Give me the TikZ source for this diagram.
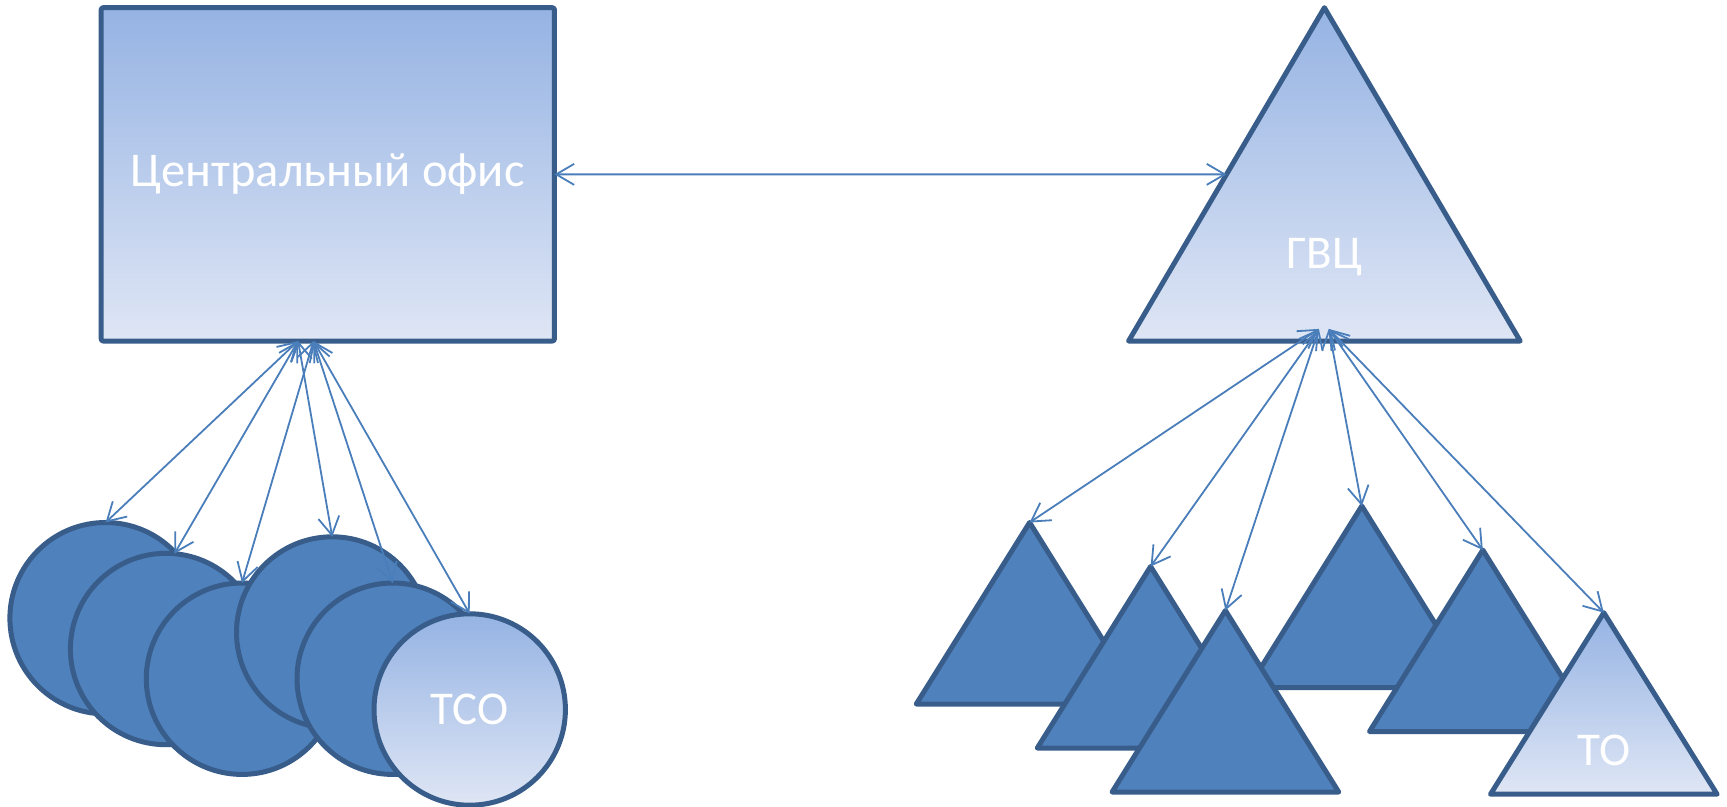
\documentclass[tikz,border=0pt]{standalone}
\usepackage{fontspec}
\setmainfont{Carlito}
\usetikzlibrary{arrows.meta,shapes.geometric}
\definecolor{fillblue}{RGB}{79,129,189}
\definecolor{edgeblue}{RGB}{56,93,138}
\definecolor{connblue}{RGB}{74,126,187}
\definecolor{gradtop}{RGB}{149,179,227}
\definecolor{gradbot}{RGB}{223,230,245}
\tikzset{
  shapeline/.style={draw=edgeblue, line width=5pt, line join=round, outer sep=0pt},
  solidfill/.style={shapeline, fill=fillblue},
  gradfill/.style={shapeline, top color=gradtop, bottom color=gradbot},
  disk/.style={circle, minimum size=191.4pt, inner sep=0pt},
  tri/.style={isosceles triangle, shape border rotate=90, isosceles triangle stretches, inner sep=0pt, anchor=apex},
  smalltri/.style={tri, minimum width=226.6pt, minimum height=181.5pt},
  lbl/.style={text=white, font=\fontsize{47}{50}\selectfont},
  conn/.style={draw=connblue, line width=1.8pt, arrows={Straight Barb[length=18pt,width=21pt]-Straight Barb[length=18pt,width=21pt]}},
}
\begin{document}
\begin{tikzpicture}[x=1.1pt,y=-1.1pt]
\useasboundingbox (0,0) rectangle (1570,732.73);
\fill[white] (0,0) rectangle (1570,732.73);
% central office
\node[gradfill, rectangle, rounded corners=2pt, minimum width=453.2pt, minimum height=333.3pt, inner sep=0pt, lbl, font=\fontsize{48.5}{52}\selectfont] (office) at (298,158.5) {Центральный офис};
% GVC
\node[gradfill, tri, minimum width=391.6pt, minimum height=333.3pt] (gvc) at (1204,7) {};
\node[lbl] (gvclbl) at (1204,234) {ГВЦ};
% circles
\node[solidfill, disk] (c1) at (96,562) {};
\node[solidfill, disk] (c2) at (151,590) {};
\node[solidfill, disk] (c3) at (220,617) {};
\node[solidfill, disk] (c4) at (302,575) {};
\node[solidfill, disk] (c5) at (357,617) {};
\node[gradfill, disk, lbl] (c6) at (427,645) {ТСО};
% small triangles
\node[solidfill, smalltri] (t1) at (936,475) {};
\node[solidfill, smalltri] (t2) at (1046,515) {};
\node[solidfill, smalltri] (t3) at (1238,460) {};
\node[solidfill, smalltri] (t4) at (1114,555) {};
\node[solidfill, smalltri] (t5) at (1348,500) {};
\node[gradfill, smalltri] (t6) at (1458,557) {};
\node[lbl] (t6lbl) at (1458,682) {ТО};
% connector ends
\coordinate (oL) at (271,310);
\coordinate (oR) at (285,310);
\coordinate (gL) at (1199,299);
\coordinate (gR) at (1208,299);
% connectors
\draw[conn] (office.east) -- (gvc.left side);
\draw[conn] (oL) -- (c1.north);
\draw[conn] (oL) -- (c2.85);
\draw[conn] (oR) -- (c3.north);
\draw[conn] (oL) -- (c4.north);
\draw[conn] (oR) -- (c5.north);
\draw[conn] (oR) -- (c6.north);
\draw[conn] (gL) -- (t1.apex);
\draw[conn] (gL) -- (t2.apex);
\draw[conn] (gL) -- (t4.apex);
\draw[conn] (gR) -- (t3.apex);
\draw[conn] (gR) -- (t5.apex);
\draw[conn] (gR) -- (t6.apex);
\end{tikzpicture}
\end{document}
